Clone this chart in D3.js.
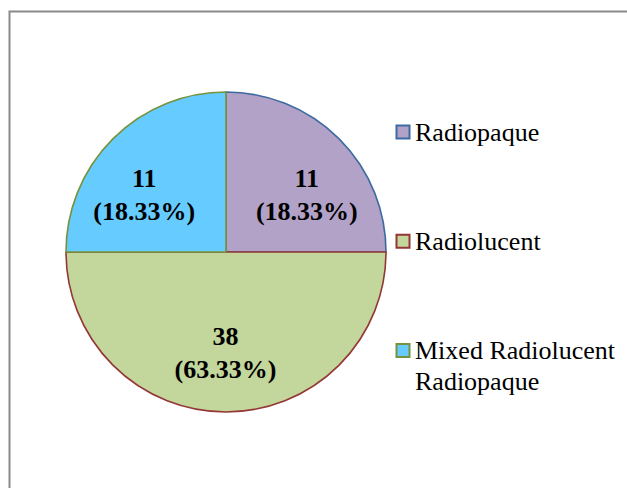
<!DOCTYPE html>
<html>
<head>
<meta charset="utf-8">
<script src="https://cdn.jsdelivr.net/npm/d3@7"></script>
<style>
  html, body { margin: 0; padding: 0; background: #fff; }
  svg { display: block; }
  text { font-family: "Liberation Serif", "Times New Roman", Times, "DejaVu Serif", serif; }
</style>
</head>
<body>
<script>
// ---- data ----
const categories = ["Radiopaque", "Radiolucent", "Mixed Radiolucent Radiopaque"];
const legendLines = [["Radiopaque"], ["Radiolucent"], ["Mixed Radiolucent", "Radiopaque"]];
// slice shares as drawn in the picture (quarter / half / quarter)
const sliceShares = [25, 50, 25];
// printed data labels
const counts = [11, 38, 11];
const percentLabels = ["18.33%", "63.33%", "18.33%"];
const fills = ["#b3a2c7", "#c3d69b", "#66ccff"];
const strokes = ["#3d6aa0", "#943634", "#76923c"];

const W = 627, H = 488;
const svg = d3.select("body").append("svg").attr("width", W).attr("height", H);

// chart area border
svg.append("rect")
  .attr("x", 9.5).attr("y", 11.5).attr("width", 640).attr("height", 500)
  .attr("fill", "#fff").attr("stroke", "#8a8a8a").attr("stroke-width", 2);

const cx = 226, cy = 252, R = 160;
const g = svg.append("g").attr("transform", `translate(${cx},${cy})`);

const pie = d3.pie().sort(null).startAngle(0).endAngle(2 * Math.PI);
const arcs = pie(sliceShares);
const arc = d3.arc().innerRadius(0).outerRadius(R);
const labelArc = d3.arc().innerRadius(115).outerRadius(115);

g.selectAll("path.slice").data(arcs).enter().append("path")
  .attr("class", "slice")
  .attr("d", arc)
  .attr("fill", (d, i) => fills[i])
  .attr("stroke", (d, i) => strokes[i])
  .attr("stroke-width", 1.6)
  .attr("stroke-linejoin", "round");

const lab = g.selectAll("text.lab").data(arcs).enter().append("text")
  .attr("class", "lab")
  .attr("text-anchor", "middle")
  .attr("font-weight", "bold")
  .attr("font-size", 26)
  .attr("fill", "#000")
  .attr("transform", d => {
    const c = labelArc.centroid(d);
    return `translate(${c[0] - 0.5},${c[1] * 0.805 + 16.9})`;
  });
lab.append("tspan").attr("x", 0).attr("y", -16.5).text((d, i) => counts[i]);
lab.append("tspan").attr("x", 0).attr("y", 16.5).text((d, i) => `(${percentLabels[i]})`);

// legend
const legendY = d3.scalePoint().domain(categories).range([132, 350.5]);
const leg = svg.append("g");
categories.forEach((c, i) => {
  const y = legendY(c);
  leg.append("rect")
    .attr("x", 396.5).attr("y", y - 6.5).attr("width", 13).attr("height", 13)
    .attr("fill", fills[i]).attr("stroke", strokes[i]).attr("stroke-width", 2);
  const t = leg.append("text")
    .attr("font-size", 26).attr("fill", "#000");
  legendLines[i].forEach((line, j) => {
    t.append("tspan").attr("x", 415).attr("y", y + 8.5 + j * 31).text(line);
  });
});
</script>
</body>
</html>
